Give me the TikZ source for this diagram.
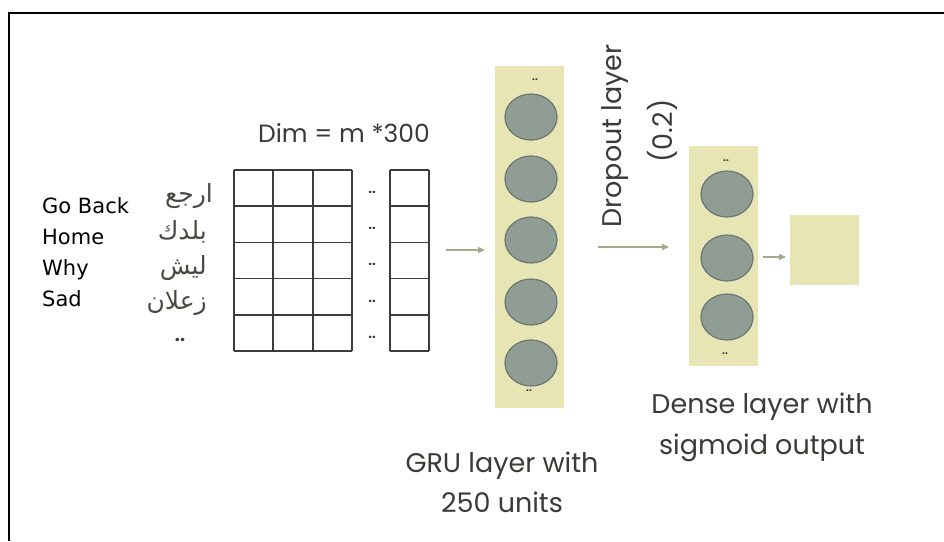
\documentclass[tikz,border=0pt]{standalone}
\usepackage{fontspec}
\setmainfont{Poppins}
\newfontfamily\leftfont{DejaVu Sans}
\newfontfamily\arabicfont[Script=Arabic]{DejaVu Sans}
\TeXXeTstate=1
\usetikzlibrary{arrows.meta,shapes.geometric}
\definecolor{khaki}{HTML}{E8E5B5}
\definecolor{unitfill}{HTML}{8F9D94}
\definecolor{unitdraw}{HTML}{6B7870}
\definecolor{arrowc}{HTML}{A9A78B}
\definecolor{txt}{HTML}{3A3A36}
\definecolor{arabc}{HTML}{4A4A44}
\definecolor{gridc}{HTML}{3C3C3C}
\begin{document}
\begin{tikzpicture}[x=1pt,y=-1pt,
  engl/.style={font=\leftfont\fontsize{21}{21}\selectfont, anchor=base west, inner sep=0pt, text=black},
  arab/.style={font=\arabicfont\fontsize{25}{25}\selectfont, anchor=east, inner sep=0pt, text=arabc},
  lbl/.style={font=\fontsize{27}{27}\selectfont, anchor=base, inner sep=0pt, text=txt},
  dots/.style={font=\bfseries\fontsize{13}{13}\selectfont, inner sep=0pt, text=txt},
  tinydots/.style={font=\bfseries\fontsize{10}{10}\selectfont, inner sep=0pt, text=txt},
  layerbox/.style={fill=khaki, draw=none, inner sep=0pt, minimum width=69pt},
  unit/.style={ellipse, fill=unitfill, draw=unitdraw, line width=1.2pt, minimum width=52pt, minimum height=46pt, inner sep=0pt},
  flow/.style={draw=arrowc, line width=1.4pt, -{Triangle[length=7pt,width=6pt]}},
  gridline/.style={draw=gridc, line width=1.5pt}
]
\useasboundingbox (0,0) rectangle (944,541);
\draw[line width=2pt] (9,541) -- (9,13) -- (944,13);

% English words
\node[engl] (w1) at (42,213) {Go Back};
\node[engl] (w2) at (42,244) {Home};
\node[engl] (w3) at (42,275) {Why};
\node[engl] (w4) at (42,306) {Sad};

% Arabic words
\node[arab] (a1) at (213,196) {\beginR ارجع\endR};
\node[arab] (a2) at (207,232) {\beginR بلدك\endR};
\node[arab] (a3) at (207,268) {\beginR ليش\endR};
\node[arab] (a4) at (207,303) {\beginR زعلان\endR};
\node[font=\bfseries\fontsize{18}{18}\selectfont, inner sep=0pt, text=txt] (a5) at (180,340) {..};

% Embedding matrix
\node[lbl, font=\fontsize{25}{25}\selectfont] (dim) at (344,142) {Dim = m *300};
\foreach \y in {170,206.2,242.4,278.6,314.8,351}{
  \draw[gridline] (234,\y) -- (352,\y);
  \draw[gridline] (390,\y) -- (429,\y);
}
\foreach \x in {234,273,313,352,390,429}{
  \draw[gridline] (\x,170) -- (\x,351);
}
\foreach \y/\n in {192/1,228/2,264/3,301/4,337/5}{
  \node[dots] (gd\n) at (372,\y) {..};
}

% GRU layer
\node[layerbox, minimum height=342pt] (gru) at (529.5,237) {};
\node[tinydots] (gtop) at (535,80) {..};
\node[unit] (g1) at (531,117) {};
\node[unit] (g2) at (531,179) {};
\node[unit] (g3) at (531,240) {};
\node[unit] (g4) at (531,302) {};
\node[unit] (g5) at (531,363) {};
\node[tinydots] (gbot) at (529,391) {..};
\node[lbl] (gl1) at (502,472) {GRU layer with};
\node[lbl] (gl2) at (502,512) {250 units};

% Dropout
\node[lbl, anchor=center, rotate=90] (d1) at (615,136) {Dropout layer};
\node[lbl, anchor=center, rotate=90] (d2) at (662,131) {(0.2)};

% Dense layer
\node[layerbox, minimum height=220pt] (dense) at (723.5,256) {};
\node[tinydots] (dtop) at (726,161) {..};
\node[unit] (n1) at (727,194) {};
\node[unit] (n2) at (727,258) {};
\node[unit] (n3) at (727,317) {};
\node[tinydots] (dbot) at (725,354) {..};
\node[lbl] (dl1) at (762,413) {Dense layer with};
\node[lbl] (dl2) at (762,454) {sigmoid output};

% Output
\node[layerbox, minimum width=69pt, minimum height=70pt] (out) at (824.5,250) {};

% Arrows
\coordinate (s1) at (446,250); \coordinate (e1) at (485,250);
\coordinate (s2) at (598,247); \coordinate (e2) at (669,247);
\coordinate (s3) at (763,257); \coordinate (e3) at (786,257);
\draw[flow] (s1) -- (e1);
\draw[flow] (s2) -- (e2);
\draw[flow] (s3) -- (e3);
\end{tikzpicture}
\end{document}
